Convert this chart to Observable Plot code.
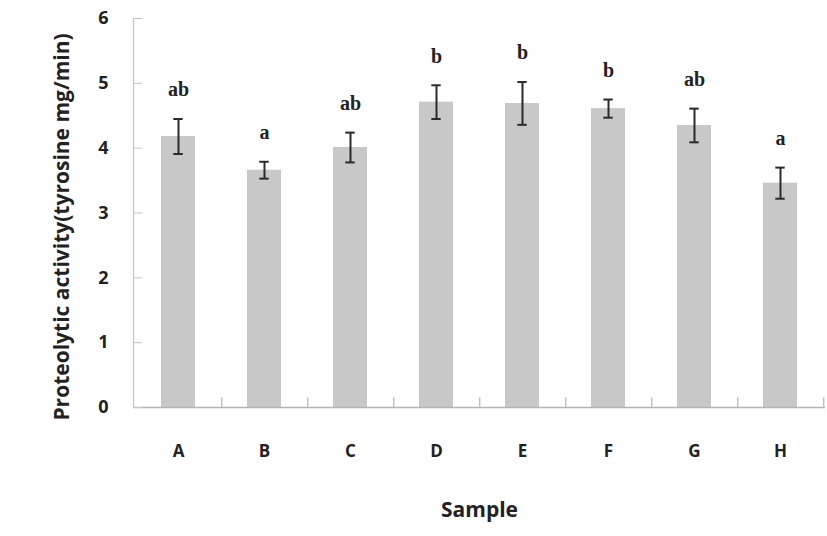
<!DOCTYPE html>
<html>
<head>
<meta charset="utf-8">
<script src="https://cdn.jsdelivr.net/npm/d3@7"></script>
<script src="https://cdn.jsdelivr.net/npm/@observablehq/plot@0.6"></script>
<style>
  html, body { margin: 0; padding: 0; background: #fff; }
  #chart svg { display: block; }
</style>
</head>
<body>
<div id="chart"></div>
<script>
const samples = ["A", "B", "C", "D", "E", "F", "G", "H"];
const means   = [4.18, 3.66, 4.01, 4.71, 4.69, 4.61, 4.35, 3.46];
const errors  = [0.27, 0.13, 0.23, 0.26, 0.33, 0.14, 0.26, 0.24];
const letters = ["ab", "a", "ab", "b", "b", "b", "ab", "a"];
const yTicks  = [0, 1, 2, 3, 4, 5, 6];

const data = samples.map((s, i) => ({sample: s, mean: means[i], err: errors[i], letter: letters[i]}));

const W = 827, H = 536;
const mL = 133, mR = 2, mT = 18, mB = 129;
const step = (W - mL - mR) / samples.length;
const barW = step * 0.4;
const capInset = (barW - 10) / 2;
const sans = "'Open Sans', 'Noto Sans', sans-serif";

const chart = Plot.plot({
  width: W,
  height: H,
  marginLeft: mL,
  marginRight: mR,
  marginTop: mT,
  marginBottom: mB,
  style: {background: "#fff", fontFamily: sans},
  x: {domain: samples, paddingInner: 0.6, paddingOuter: 0.3, label: null},
  y: {domain: [0, 6], label: null},
  marks: [
    Plot.barY(data, {x: "sample", y: "mean", fill: "#c8c8c8"}),
    Plot.ruleY([0], {stroke: "#b4b4b4", strokeWidth: 1.5}),
    Plot.frame({anchor: "left", stroke: "#c4c4c4", strokeWidth: 1.2}),
    Plot.ruleX(samples, {x: d => d, y1: 0, y2: 0.15, dx: step / 2, stroke: "#b4b4b4", strokeWidth: 1.2}),
    Plot.ruleX(data, {x: "sample", y1: d => d.mean - d.err, y2: d => d.mean + d.err, stroke: "#2a2a2a", strokeWidth: 2}),
    Plot.tickY(data, {x: "sample", y: d => d.mean + d.err, stroke: "#2a2a2a", strokeWidth: 2, insetLeft: capInset, insetRight: capInset}),
    Plot.tickY(data, {x: "sample", y: d => d.mean - d.err, stroke: "#2a2a2a", strokeWidth: 2, insetLeft: capInset, insetRight: capInset}),
    Plot.text(data, {x: "sample", y: d => d.mean + d.err, text: "letter", dy: -29, fontFamily: "'Liberation Serif', 'DejaVu Serif', serif", fontWeight: "bold", fontSize: 20, fill: "#222"}),
    Plot.axisY(yTicks, {anchor: "left", tickSize: -9, tickPadding: 34, stroke: "#c4c4c4", tickFormat: d3.format("d"), fontSize: 18, fontWeight: "bold", fill: "#222", label: null}),
    Plot.axisX({anchor: "bottom", tickSize: 0, tickPadding: 37, fontSize: 17, fontWeight: "bold", fill: "#222", label: null}),
    Plot.text(["Proteolytic activity(tyrosine mg/min)"], {frameAnchor: "left", textAnchor: "middle", rotate: -90, dx: -71, dy: 14, fontSize: 21, fontWeight: "bold", fill: "#222"}),
    Plot.text(["Sample"], {frameAnchor: "bottom", dy: 109, fontSize: 21, fontWeight: "bold", fill: "#222"})
  ]
});

document.getElementById("chart").appendChild(chart);
</script>
</body>
</html>
